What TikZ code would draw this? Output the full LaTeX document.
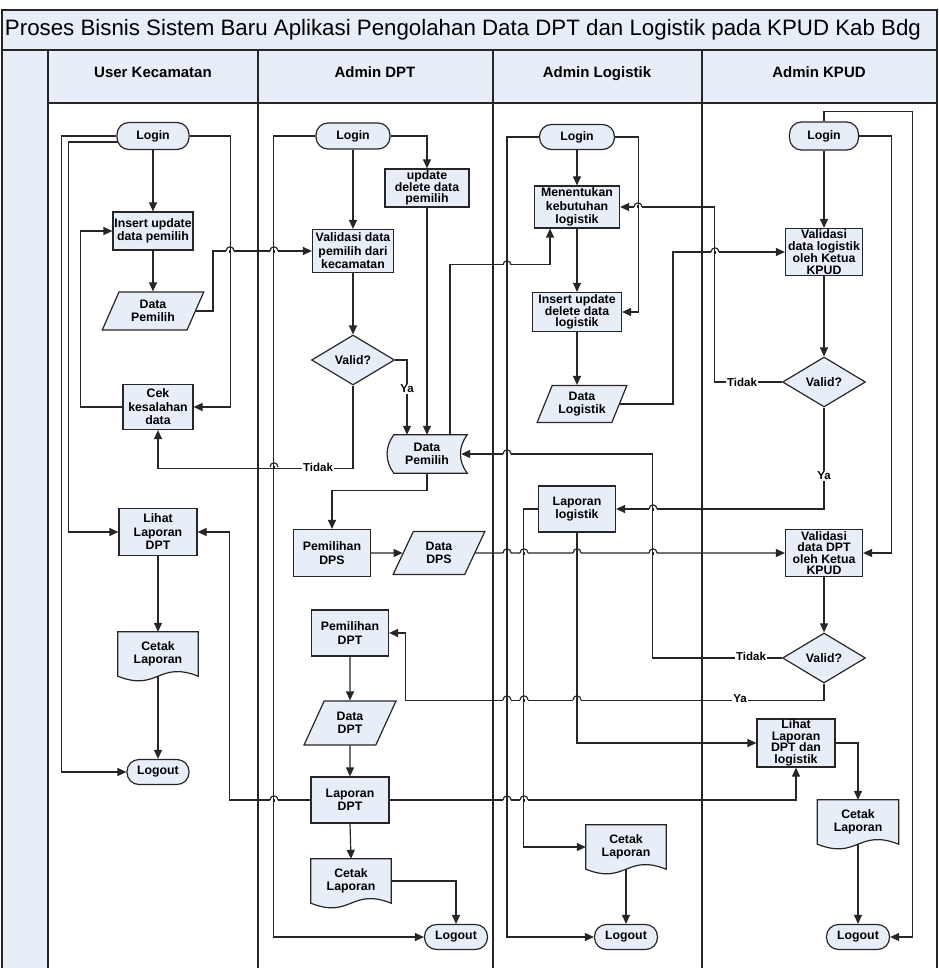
\documentclass[tikz,border=0pt]{standalone}
\usepackage{fontspec}
\setmainfont{Liberation Sans}
\usepackage{xcolor}
\definecolor{kpuBlue}{HTML}{E8EEF8}
\definecolor{kpuLine}{HTML}{262626}
\usetikzlibrary{arrows.meta,shapes.geometric,backgrounds,calc}

\tikzset{
  wh/.style 2 args={minimum width=#1pt, minimum height=#2pt},
  fcbox/.style={draw=kpuLine, line width=1.2pt, fill=kpuBlue, align=center, inner sep=1pt,
    font=\fontsize{12.3}{13.5}\selectfont\bfseries},
  proc/.style={fcbox, rectangle},
  term/.style={fcbox, rectangle, rounded corners=12pt},
  io/.style={fcbox, trapezium, trapezium left angle=65, trapezium right angle=115,
    trapezium stretches=true},
  dec/.style={fcbox, diamond, minimum width=83pt, minimum height=50pt},
  txtonly/.style={align=center, inner sep=1pt, font=\fontsize{12.3}{13.5}\selectfont\bfseries},
  tight/.style={font=\fontsize{12.3}{11.5}\selectfont\bfseries},
  link/.style={draw=kpuLine, line width=1.2pt},
  flow/.style={link, -{Triangle[length=9pt,width=8pt]}},
  lbl/.style={fill=white, inner sep=1pt, font=\fontsize{11.5}{12}\selectfont\bfseries},
  lane/.style={draw=kpuLine, line width=1.5pt},
  hdr/.style={font=\fontsize{15}{17}\selectfont\bfseries, anchor=base},
}

% little bump where a horizontal connector jumps over a vertical one
\newcommand{\linehop}[2]{%
  \fill[white] ({#1-4},{#2-1.2}) rectangle ({#1+4},{#2+1.2});
  \draw[link] (#1,{#2-1.5}) -- (#1,{#2+1.5});
  \draw[link] ({#1-4},#2) .. controls ({#1-4},{#2-5.5}) and ({#1+4},{#2-5.5}) .. ({#1+4},#2);}

% document symbol (wavy bottom) round a named node
\newcommand{\docshape}[1]{%
  \begin{scope}[on background layer]
    \draw[link, fill=kpuBlue] (#1.north west) -- (#1.north east) -- (#1.south east)
      .. controls ($(#1.south)+(0,-16)$) and ($(#1.south)+(0,16)$) .. (#1.south west) -- cycle;
  \end{scope}}

% stored data symbol round a named node
\newcommand{\storeshape}[1]{%
  \begin{scope}[on background layer]
    \draw[link, fill=kpuBlue] ([xshift=7pt]#1.north west) -- (#1.north east)
      .. controls ($(#1.north east)+(-9,12)$) and ($(#1.south east)+(-9,-12)$) .. (#1.south east)
      -- ([xshift=7pt]#1.south west)
      .. controls ($(#1.south west)+(-2,-12)$) and ($(#1.north west)+(-2,12)$) .. ([xshift=7pt]#1.north west)
      -- cycle;
  \end{scope}}

\begin{document}
\begin{tikzpicture}[x=1pt, y=-1pt]
  \useasboundingbox (0,0) rectangle (938,968);
  % ---- frame, title and lanes ----
  \fill[kpuBlue] (2,10) rectangle (937,103);
  \fill[kpuBlue] (2,103) rectangle (48,975);
  \draw[lane] (2,10) rectangle (937,975);
  \draw[lane] (2,50) -- (937,50);
  \draw[lane] (48,103) -- (937,103);
  \foreach \xl in {48,258,493,702}
    \draw[lane] (\xl,50) -- (\xl,975);
  \node[font=\fontsize{22.3}{24}\selectfont] (title) at (463,30)
    {Proses Bisnis Sistem Baru Aplikasi Pengolahan Data DPT dan Logistik pada KPUD Kab Bdg};
  \node[hdr] (hUser) at (153,78) {User Kecamatan};
  \node[hdr] (hDpt)  at (375,78) {Admin DPT};
  \node[hdr] (hLog)  at (597,78) {Admin Logistik};
  \node[hdr] (hKpud) at (819,78) {Admin KPUD};

  % ---- lane: User Kecamatan ----
  \node[term, wh={72}{27}] (log1) at (153,136) {Login};
  \node[proc, wh={80}{38}] (ins1) at (153,231) {Insert update\\data pemilih};
  \node[io, wh={102}{38}] (dpem1) at (153,311) {Data\\Pemilih};
  \node[proc, wh={70}{45}] (cek) at (158,407) {Cek\\kesalahan\\data};
  \node[proc, wh={78}{47}] (lihat1) at (158,532) {Lihat\\Laporan\\DPT};
  \node[txtonly, wh={80}{44}] (cetak1) at (158,654) {Cetak\\Laporan};
  \docshape{cetak1}
  \node[term, wh={62}{25}] (logout1) at (158,772) {Logout};

  % ---- lane: Admin DPT ----
  \node[term, wh={74}{26}] (log2) at (353,136) {Login};
  \node[proc, tight, wh={84}{38}] (upd2) at (427,188) {update\\delete data\\pemilih};
  \node[proc, wh={81}{43}] (val2) at (353,251) {Validasi data\\pemilih dari\\kecamatan};
  \node[dec] (vq2) at (353,360) {Valid?};
  \node[txtonly, wh={80}{38}] (dpem2) at (427,454) {Data\\Pemilih};
  \storeshape{dpem2}
  \node[proc, wh={77}{47}] (dps) at (332,553) {Pemilihan\\DPS};
  \node[io, wh={92}{43}] (ddps) at (439,553) {Data\\DPS};
  \node[proc, wh={77}{46}] (pdpt) at (350,633) {Pemilihan\\DPT};
  \node[io, wh={92}{44}] (ddpt) at (350,723) {Data\\DPT};
  \node[proc, wh={78}{46}] (lap2) at (350,800) {Laporan\\DPT};
  \node[txtonly, wh={80}{44}] (cetak2) at (351,881) {Cetak\\Laporan};
  \docshape{cetak2}
  \node[term, wh={63}{25}] (logout2) at (456,937) {Logout};

  % ---- lane: Admin Logistik ----
  \node[term, wh={75}{25}] (log3) at (577,137) {Login};
  \node[proc, wh={85}{42}] (men) at (577,207) {Menentukan\\kebutuhan\\logistik};
  \node[proc, tight, wh={89}{39}] (ins3) at (577,312) {Insert update\\delete data\\logistik};
  \node[io, wh={90}{37}] (dlog) at (582,404) {Data\\Logistik};
  \node[proc, wh={77}{46}] (laplog) at (577,509) {Laporan\\logistik};
  \node[txtonly, wh={80}{44}] (cetak3) at (626,847) {Cetak\\Laporan};
  \docshape{cetak3}
  \node[term, wh={63}{25}] (logout3) at (626,937) {Logout};

  % ---- lane: Admin KPUD ----
  \node[term, wh={69}{28}] (log4) at (824,136) {Login};
  \node[proc, tight, wh={77}{47}] (vlog) at (824,252) {Validasi\\data logistik\\oleh Ketua\\KPUD};
  \node[dec] (vq4a) at (824,382) {Valid?};
  \node[proc, tight, wh={77}{47}] (vdpt) at (824,553) {Validasi\\data DPT\\oleh Ketua\\KPUD};
  \node[dec] (vq4b) at (824,658) {Valid?};
  \node[proc, tight, wh={78}{46}] (lihat4) at (796,743) {Lihat\\Laporan\\DPT dan\\logistik};
  \node[txtonly, wh={81}{44}] (cetak4) at (858,822) {Cetak\\Laporan};
  \docshape{cetak4}
  \node[term, wh={63}{25}] (logout4) at (858,937) {Logout};

  % ---- connectors: User Kecamatan ----
  \draw[flow] (log1.south) -- (ins1.north);
  \draw[flow] (ins1.south) -- (ins1.south |- dpem1.north);
  \draw[flow] (log1.east) -- ++(41,0) |- (cek.east);
  \draw[flow] (log1.west) -- ++(-55,0) |- (logout1.west);
  \draw[flow] ([xshift=2pt,yshift=-6pt]log1.west) -- ++(-50,0) |- (lihat1.west);
  \draw[flow] (cek.west) -- ++(-42,0) |- (ins1.west);
  \draw[flow] (dpem1.east) -- ++(17,0) |- (val2.west);
  \draw[flow] (lihat1.south) -- (cetak1.north);
  \draw[flow] (cetak1.south) -- (logout1.north);
  % ---- connectors: Admin DPT ----
  \draw[flow] (log2.south) -- (val2.north);
  \draw[flow] (log2.east) -| (upd2.north);
  \draw[flow] (log2.west) -- ++(-42,0) |- (logout2.west);
  \draw[flow] (val2.south) -- (vq2.north);
  \draw[flow] (vq2.east) -| ([xshift=-20pt]dpem2.north);
  \draw[flow] (upd2.south) -- (dpem2.north);
  \draw[flow] (vq2.south) -- ++(0,82.5) -| (cek.south);
  \draw[flow] ([xshift=23pt]dpem2.north) -- ++(0,-170) -| ([xshift=-27pt]men.south);
  \draw[flow] (dpem2.south) -- ++(0,17) -| (dps.north);
  \draw[flow] (dps.east) -- (ddps.west);
  \draw[flow] (ddps.east) -- (vdpt.west);
  \draw[flow] (pdpt.south) -- (ddpt.north);
  \draw[flow] (ddpt.south) -- (lap2.north);
  \draw[flow] (lap2.south) -- (cetak2.north);
  \draw[flow] (lap2.west) -- ++(-81,0) |- (lihat1.east);
  \draw[flow] (lap2.east) -| (lihat4.south);
  \draw[flow] (cetak2.east) -| (logout2.north);
  % ---- connectors: Admin Logistik ----
  \draw[flow] (log3.south) -- (men.north);
  \draw[flow] (men.south) -- (ins3.north);
  \draw[flow] (ins3.south) -- (ins3.south |- dlog.north);
  \draw[flow] (log3.east) -- ++(23.5,0) |- (ins3.east);
  \draw[flow] (log3.west) -- ++(-32,0) |- (logout3.west);
  \draw[flow] (dlog.east) -| ([xshift=-112pt]vlog.west) -- (vlog.west);
  \draw[flow] (laplog.west) -- ++(-14.5,0) |- (cetak3.west);
  \draw[flow] (laplog.south) |- (lihat4.west);
  \draw[flow] (cetak3.south) -- (logout3.north);
  % ---- connectors: Admin KPUD ----
  \draw[flow] (log4.north) -- ++(0,-10) -| ([xshift=22pt]logout4.east) -- (logout4.east);
  \draw[flow] (log4.east) -| ([xshift=28.5pt]vdpt.east) -- (vdpt.east);
  \draw[flow] (log4.south) -- (vlog.north);
  \draw[flow] (vlog.south) -- (vq4a.north);
  \draw[flow] (vq4a.west) -- ++(-67.5,0) |- (men.east);
  \draw[flow] (vq4a.south) |- (laplog.east);
  \draw[flow] (vdpt.south) -- (vq4b.north);
  \draw[flow] (vq4b.west) -- ++(-129.5,0) |- ([xshift=-6pt]dpem2.east);
  \draw[flow] (vq4b.south) -- ++(0,17) -| ([xshift=16.5pt]pdpt.east) -- (pdpt.east);
  \draw[flow] (lihat4.east) -| (cetak4.north);
  \draw[flow] (cetak4.south) -- (logout4.north);

  % line jumps
  \foreach \hx/\hy in {230/251, 274/251, 507/265, 274/467, 638/207, 715/252,
                       507/454, 653/509, 507/553, 524/553, 577/553, 653/553,
                       507/700, 524/700, 577/700, 274/800, 507/800, 524/800}
    \linehop{\hx}{\hy};

  % branch labels
  \node[lbl] (tdkA) at (318,467) {Tidak};
  \node[lbl] (yaA)  at (407,389) {Ya};
  \node[lbl] (tdkB) at (742,382) {Tidak};
  \node[lbl] (yaB)  at (824,476) {Ya};
  \node[lbl] (tdkC) at (751,656) {Tidak};
  \node[lbl] (yaC)  at (740,699) {Ya};
\end{tikzpicture}
\end{document}
